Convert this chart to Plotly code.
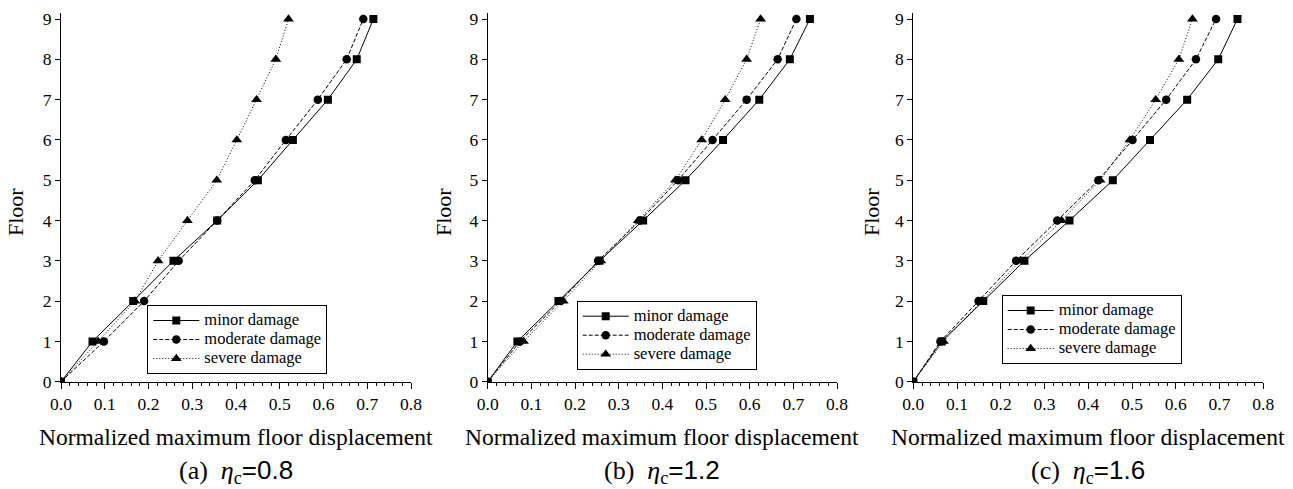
import plotly.graph_objects as go

floors = [0, 1, 2, 3, 4, 5, 6, 7, 8, 9]

# Panel (a) eta_c = 0.8
a_minor    = [0, 0.072, 0.165, 0.257, 0.357, 0.450, 0.530, 0.610, 0.676, 0.714]
a_moderate = [0, 0.098, 0.190, 0.269, 0.357, 0.443, 0.514, 0.587, 0.653, 0.691]
a_severe   = [0, 0.085, 0.169, 0.222, 0.289, 0.356, 0.402, 0.447, 0.491, 0.520]

# Panel (b) eta_c = 1.2
b_minor    = [0, 0.068, 0.162, 0.256, 0.356, 0.453, 0.539, 0.622, 0.692, 0.738]
b_moderate = [0, 0.074, 0.167, 0.253, 0.349, 0.436, 0.515, 0.593, 0.664, 0.707]
b_severe   = [0, 0.082, 0.173, 0.259, 0.345, 0.430, 0.490, 0.544, 0.593, 0.625]

# Panel (c) eta_c = 1.6
c_minor    = [0, 0.065, 0.160, 0.254, 0.357, 0.456, 0.541, 0.626, 0.697, 0.741]
c_moderate = [0, 0.062, 0.149, 0.235, 0.329, 0.423, 0.501, 0.578, 0.646, 0.692]
c_severe   = [0, 0.069, 0.156, 0.245, 0.339, 0.427, 0.495, 0.554, 0.607, 0.638]

series_names = ["minor damage", "moderate damage", "severe damage"]
captions = ["(a)", "(b)", "(c)"]
eta_values = ["0.8", "1.2", "1.6"]
x_title = "Normalized maximum floor displacement"
y_title = "Floor"

panels = [(a_minor, a_moderate, a_severe),
          (b_minor, b_moderate, b_severe),
          (c_minor, c_moderate, c_severe)]

W, H = 1293, 489
x_left = [61, 487.7, 913.3]
x_right = [411, 837, 1263.3]
y_bottom_px, y_top_px = 381.7, 13
legend_pos = [(147.3, 305), (576.7, 300.7), (1001.7, 295)]
floor_title_x = [15, 443, 871]

styles = [
    dict(dash="solid", symbol="square", size=8),
    dict(dash="4px,2px", symbol="circle", size=8.5),
    dict(dash="1px,2px", symbol="triangle-up", size=9.5),
]

SERIF = "Liberation Serif"
fig = go.Figure()

for i, data in enumerate(panels):
    xa = "x" if i == 0 else f"x{i+1}"
    ya = "y" if i == 0 else f"y{i+1}"
    lg = "legend" if i == 0 else f"legend{i+1}"
    for j, vals in enumerate(data):
        st = styles[j]
        fig.add_trace(go.Scatter(
            x=vals, y=floors, mode="lines+markers",
            name=f"<span style='font-size:16.5px'>{series_names[j]}</span>",
            xaxis=xa, yaxis=ya, legend=lg,
            line=dict(color="black", width=1, dash=st["dash"]),
            marker=dict(color="black", symbol=st["symbol"], size=st["size"]),
        ))

layout = dict(
    template="none",
    width=W, height=H,
    margin=dict(l=0, r=0, t=0, b=0),
    paper_bgcolor="white", plot_bgcolor="white",
    font=dict(family=SERIF, color="black", size=17),
    annotations=[],
)

for i in range(3):
    sx = "" if i == 0 else str(i + 1)
    dom_x = [x_left[i] / W, x_right[i] / W]
    dom_y = [1 - y_bottom_px / H, 1 - y_top_px / H]
    layout[f"xaxis{sx}"] = dict(
        domain=dom_x, anchor=f"y{sx}", range=[0, 0.8], automargin=False,
        showline=True, linecolor="black", linewidth=1,
        ticks="outside", ticklen=6, tickwidth=1, tickcolor="black",
        dtick=0.1, tick0=0, tickformat=".1f",
        minor=dict(ticks="outside", ticklen=3, dtick=0.02, tickcolor="black", tickwidth=1),
        showgrid=False, zeroline=False,
        tickfont=dict(family=SERIF, size=17.5),
    )
    layout[f"yaxis{sx}"] = dict(
        domain=dom_y, anchor=f"x{sx}", range=[0, 9.15], automargin=False,
        showline=True, linecolor="black", linewidth=1,
        ticks="outside", ticklen=5, tickwidth=1, tickcolor="black",
        dtick=1, tick0=0,
        showgrid=False, zeroline=False,
        tickfont=dict(family=SERIF, size=17.5),
    )
    lx, ly = legend_pos[i]
    layout["legend" if i == 0 else f"legend{i+1}"] = dict(
        x=lx / W, y=1 - ly / H, xanchor="left", yanchor="top",
        bordercolor="black", borderwidth=1, bgcolor="white",
        font=dict(family=SERIF, size=12), itemwidth=46,
        tracegroupgap=0,
    )
    cx = (x_left[i] + x_right[i]) / 2 / W
    caption_text = (f"{captions[i]}&nbsp;&nbsp;<i>η</i><sub>c</sub>"
                    f"<span style='font-family:Liberation Sans'>={eta_values[i]}</span>")
    layout["annotations"] += [
        dict(text=x_title, x=cx, y=1 - 437 / H, xref="paper", yref="paper",
             xanchor="center", yanchor="middle",
             showarrow=False, font=dict(family=SERIF, size=23.5)),
        dict(text=caption_text,
             x=cx, y=1 - 471 / H, xref="paper", yref="paper",
             xanchor="center", yanchor="middle",
             showarrow=False, font=dict(family=SERIF, size=26)),
        dict(text=y_title, x=floor_title_x[i] / W, y=1 - 212 / H,
             xref="paper", yref="paper", textangle=-90,
             xanchor="center", yanchor="middle",
             showarrow=False, font=dict(family=SERIF, size=22)),
    ]

fig.update_layout(**layout)
fig.write_html("out.html", config={"displayModeBar": False},
               post_script="document.body.style.margin='0px';")
